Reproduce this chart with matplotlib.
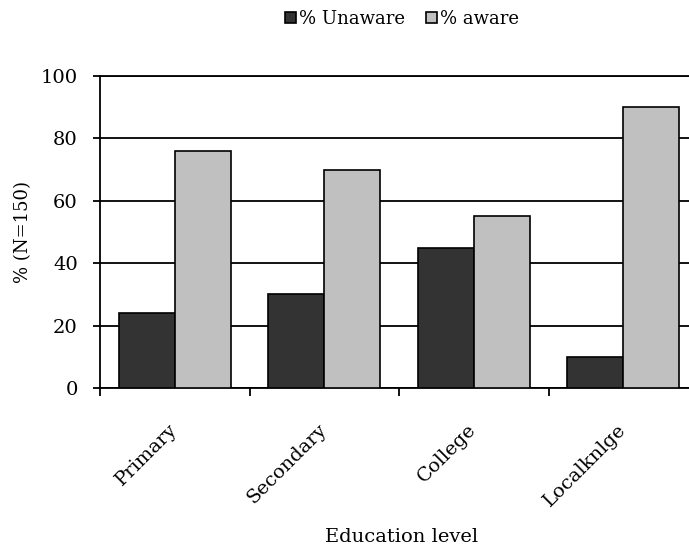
import numpy as np
import matplotlib.pyplot as plt

categories = ['Primary', 'Secondary', 'College', 'Localknlge']
unaware = [24, 30, 45, 10]
aware = [76, 70, 55, 90]
series_names = ['% Unaware', '% aware']
yticks = [0, 20, 40, 60, 80, 100]

plt.rcParams['font.family'] = ['DejaVu Serif']

fig = plt.figure(figsize=(6.89, 5.49), dpi=100)
ax = fig.add_axes([100 / 689, 161 / 549, 589 / 689, 312 / 549])

x = np.arange(len(categories))
w = 0.375
ax.bar(x + 0.125, unaware, width=w, align='edge', color='#333333',
       edgecolor='black', linewidth=1.2, label=series_names[0], zorder=3)
ax.bar(x + 0.5, aware, width=w, align='edge', color='#c0c0c0',
       edgecolor='black', linewidth=1.2, label=series_names[1], zorder=3)

ax.set_xlim(0, 589 / 149.5)
ax.set_ylim(0, 100)
ax.set_yticks(yticks)
ax.yaxis.grid(True, color='black', linewidth=1.3, zorder=1)
ax.set_axisbelow(True)

ax.set_xticks(x)
ax.set_xticklabels([])
ax.set_xticks(x + 0.5, minor=True)
ax.set_xticklabels(categories, minor=True, rotation=45, ha='right',
                   va='center', rotation_mode='anchor', fontsize=14)
ax.tick_params(axis='x', which='minor', length=0, pad=28)
ax.tick_params(axis='x', which='major', direction='out', length=6, width=1.3)
ax.tick_params(axis='y', direction='out', length=5, width=1.3, labelsize=14, pad=11)

ax.spines['right'].set_visible(False)
for s in ['left', 'bottom', 'top']:
    ax.spines[s].set_linewidth(1.3)

ax.set_ylabel('% (N=150)', fontsize=13)
ax.yaxis.set_label_coords(-68 / 589, 0.5)
ax.set_xlabel('Education level', fontsize=14)
ax.xaxis.set_label_coords(302 / 589, -140 / 312)

fig.legend(loc='center', bbox_to_anchor=(402 / 689, 1 - 19 / 549), ncol=2,
           frameon=False, fontsize=13, handlelength=0.6, handleheight=0.6,
           handletextpad=0.15, columnspacing=1.2)

fig.savefig('out.png', dpi=100)
